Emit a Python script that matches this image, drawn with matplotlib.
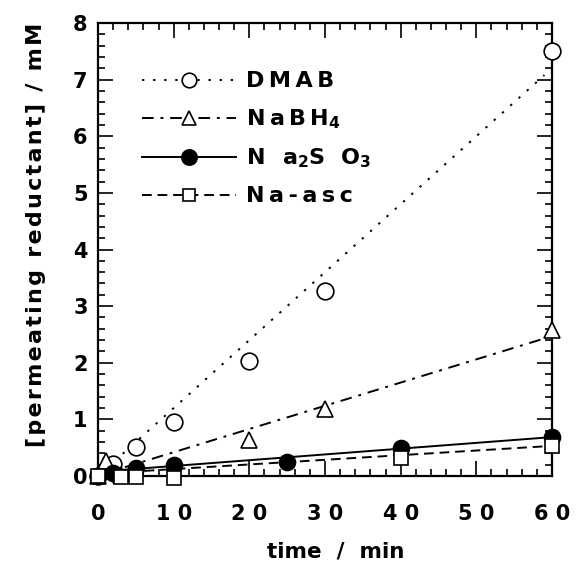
import matplotlib
matplotlib.use("Agg")
import matplotlib.pyplot as plt
import numpy as np
from matplotlib.ticker import MultipleLocator, FixedLocator

plt.rcParams['font.family'] = ['DejaVu Sans']
plt.rcParams['font.weight'] = 'bold'
plt.rcParams['mathtext.fontset'] = 'dejavusans'
plt.rcParams['mathtext.default'] = 'bf'

HS = '\u200a'  # hair space used for letter tracking


def track(s, n=1):
    return (HS * n).join(s)


# ---- data ----
dmab_t = [0, 2, 5, 10, 20, 30, 60]
dmab_c = [0.0, 0.22, 0.51, 0.96, 2.03, 3.27, 7.50]

nabh4_t = [0, 1, 3, 20, 30, 60]
nabh4_c = [0.0, 0.26, 0.01, 0.64, 1.18, 2.57]

na2so3_t = [0, 2, 5, 10, 25, 40, 60]
na2so3_c = [0.0, 0.06, 0.14, 0.20, 0.25, 0.49, 0.68]

naasc_t = [0, 3, 5, 10, 40, 60]
naasc_c = [0.0, -0.02, -0.02, -0.03, 0.31, 0.53]

# linear fit parameters (slope, intercept)
dmab_fit = (0.120, 0.0)
nabh4_fit = (0.041, 0.01)
na2so3_fit = (0.0102, 0.075)
naasc_fit = (0.0082, 0.04)
fit_range = [0, 59]

x_ticks = [0, 10, 20, 30, 40, 50, 60]
x_ticklabels = ["0", "1 0", "2 0", "3 0", "4 0", "5 0", "6 0"]
y_ticks = [0, 1, 2, 3, 4, 5, 6, 7, 8]

fig = plt.figure(figsize=(5.82, 5.66), dpi=100)
ax = fig.add_axes([98/582, 1-476/566, (552-98)/582, (476-23)/566])

ft = np.array(fit_range, dtype=float)
lw = 1.4

labels = [track("DMAB", 2),
          track("NaBH", 2) + "$_{4}$",
          "N  " + HS + "a$_{2}$S  O$_{3}$",
          track("Na-asc", 2)]

styles = [
    (dmab_t, dmab_c, dmab_fit, (0, (1.2, 4.5)), 'o', 'white', 12, 10.5),
    (nabh4_t, nabh4_c, nabh4_fit, (0, (6, 3.5, 1.5, 3.5)), '^', 'white', 12, 10.5),
    (na2so3_t, na2so3_c, na2so3_fit, '-', 'o', 'black', 11.5, 11),
    (naasc_t, naasc_c, naasc_fit, (0, (5, 3)), 's', 'white', 10, 8.5),
]

handles = []
for label, (t, c, fit, ls, mk, mfc, ms, lms) in zip(labels, styles):
    slope, icpt = fit
    ax.plot(ft, slope*ft + icpt, color='black', lw=lw, linestyle=ls, zorder=2)
    ax.plot(t, c, linestyle='none', marker=mk, markerfacecolor=mfc,
            markeredgecolor='black', markeredgewidth=1.2, markersize=ms,
            clip_on=False, zorder=3)
    h, = ax.plot([], [], color='black', lw=lw, linestyle=ls, marker=mk,
                 markerfacecolor=mfc, markeredgecolor='black',
                 markeredgewidth=1.2, markersize=lms, label=label)
    handles.append(h)

ax.set_xlim(0, 60)
ax.set_ylim(0, 8)
ax.xaxis.set_major_locator(FixedLocator(x_ticks))
ax.set_xticklabels(x_ticklabels)
ax.xaxis.set_minor_locator(MultipleLocator(2))
ax.yaxis.set_major_locator(FixedLocator(y_ticks))
ax.yaxis.set_minor_locator(MultipleLocator(0.2))

ax.tick_params(which='both', direction='in', top=True, right=True,
               width=1.2, labelsize=15)
ax.tick_params(which='major', length=11)
ax.tick_params(which='minor', length=5)
ax.tick_params(axis='x', which='major', pad=20)
ax.tick_params(axis='y', which='major', pad=7.5)
for lab in ax.get_xticklabels() + ax.get_yticklabels():
    lab.set_fontweight('bold')

for s in ax.spines.values():
    s.set_linewidth(1.6)

ax.set_xlabel("time  /  min", fontsize=15.5, fontweight='bold')
ax.xaxis.set_label_coords(0.524, -0.1435)
ax.set_ylabel(track("[permeating reductant] / mM"), fontsize=16, fontweight='bold')
ax.yaxis.set_label_coords(-0.115, 0.532)

leg = ax.legend(handles=handles, loc='upper left', bbox_to_anchor=(0.078, 0.913),
                frameon=False, fontsize=16, handlelength=4.2, handletextpad=0.45,
                labelspacing=0.72, numpoints=1, borderaxespad=0)
for txt in leg.get_texts():
    txt.set_fontweight('bold')

fig.savefig("out.png", dpi=100)
